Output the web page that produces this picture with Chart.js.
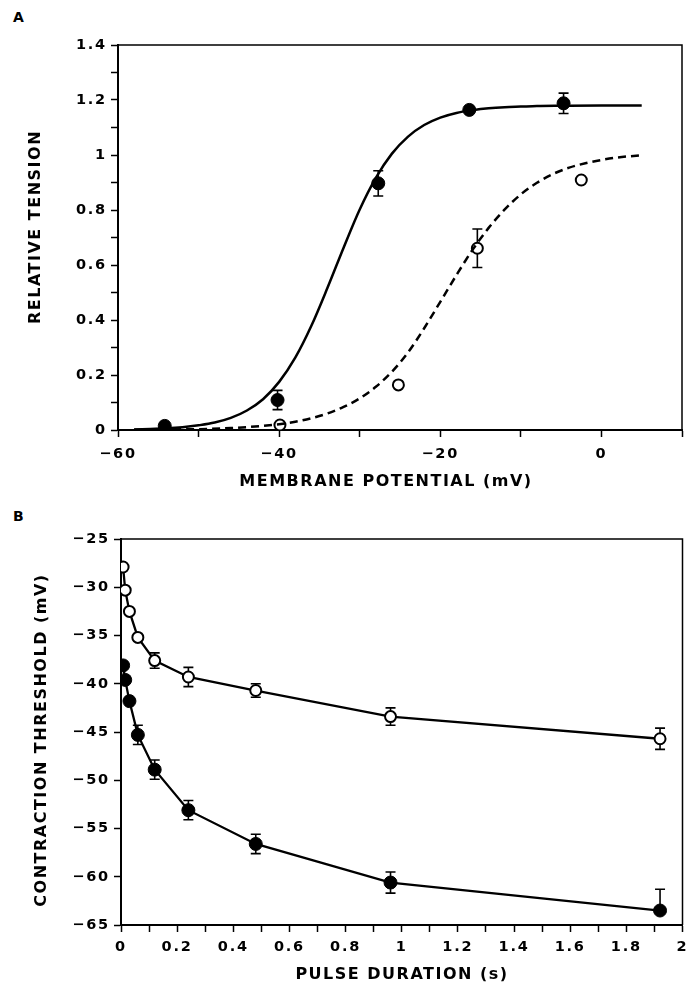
<!DOCTYPE html>
<html>
<head>
<meta charset="utf-8">
<script src="https://cdn.jsdelivr.net/npm/chart.js@4/dist/chart.umd.min.js"></script>
<style>
	body { margin:0; background:#fff; }
	.wrap { position:relative; width:690px; height:985px; }
	canvas { position:absolute; left:0; }
	.panel { position:absolute; left:13px; font:bold 14px "DejaVu Sans"; line-height:1; color:#000; }
</style>
</head>
<body>
<div class="wrap">
	<div class="panel" style="top:10px;">A</div>
	<canvas id="chartA" width="690" height="492" style="top:0;"></canvas>
	<div class="panel" style="top:509px;">B</div>
	<canvas id="chartB" width="690" height="493" style="top:492px;"></canvas>
</div>
<script>
// panel A : tension vs membrane potential
var potSolid = [-58, -56, -54, -52, -50, -48, -46, -44, -42, -40, -38, -36, -34, -32, -30, -28, -26, -24, -22, -20, -18, -16, -14, -12, -10, -8, -5, 0, 5];
var tensionSolid = [0.002, 0.004, 0.006, 0.01, 0.017, 0.027, 0.044, 0.071, 0.112, 0.175, 0.263, 0.379, 0.517, 0.663, 0.802, 0.917, 1.005, 1.067, 1.109, 1.136, 1.153, 1.163, 1.17, 1.174, 1.176, 1.178, 1.179, 1.18, 1.18];
var potDashed = [-58, -54, -50, -46, -42, -40, -38, -36, -34, -32, -30, -28, -26, -24, -22, -20, -18, -16, -14, -12, -10, -8, -6, -4, -2, 0, 2, 5];
var tensionDashed = [0.001, 0.002, 0.003, 0.007, 0.015, 0.021, 0.03, 0.043, 0.06, 0.084, 0.115, 0.157, 0.212, 0.282, 0.37, 0.466, 0.563, 0.655, 0.735, 0.802, 0.857, 0.899, 0.931, 0.954, 0.97, 0.982, 0.991, 0.999];
var potFilled = [-54.2, -40.2, -27.7, -16.4, -4.7];
var tensionFilled = [0.015, 0.109, 0.897, 1.164, 1.188];
var errFilled = [0, 0.035, 0.046, 0, 0.037];
var potOpen = [-39.9, -25.2, -15.4, -2.5];
var tensionOpen = [0.018, 0.164, 0.661, 0.909];
var errOpen = [0, 0, 0.07, 0];

// panel B : threshold vs pulse duration
var duration = [0.0075, 0.015, 0.03, 0.06, 0.12, 0.24, 0.48, 0.96, 1.92];
var thresholdOpen = [-27.9, -30.3, -32.5, -35.2, -37.6, -39.3, -40.7, -43.4, -45.7];
var errOpenB = [0, 0, 0, 0, 0.8, 1.0, 0.7, 0.9, 1.1];
var thresholdFilled = [-38.1, -39.6, -41.8, -45.3, -48.9, -53.1, -56.6, -60.6, -63.5];
var errFilledUp = [0, 0, 0, 1.0, 1.0, 1.0, 1.0, 1.1, 2.2];
var errFilledDown = [0, 0, 0, 1.0, 1.0, 1.0, 1.0, 1.1, 0];

var FONT = "DejaVu Sans";

function pts(xs, ys) {
	var out = [];
	for(var i=0; i<xs.length; i++) out.push({x: xs[i], y: ys[i]});
	return out;
}
function minus(s) {
	return String(s).replace("-", "\u2212");
}

// error bars, frame, axis titles
var figPlugin = {
	id: "fig",
	beforeDraw: function(chart) {
		chart.ctx.letterSpacing = "1.8px";
	},
	beforeDatasetsDraw: function(chart) {
		var ctx = chart.ctx;
		var xs = chart.scales.x, ys = chart.scales.y;
		ctx.save();
		ctx.strokeStyle = "#000";
		ctx.lineWidth = 1.6;
		chart.data.datasets.forEach(function(ds) {
			if(!ds.errUp) return;
			ds.data.forEach(function(p, i) {
				var up = ds.errUp[i], dn = ds.errDown[i];
				if(!up && !dn) return;
				var px = xs.getPixelForValue(p.x);
				var top = ys.getPixelForValue(p.y + up);
				var bot = ys.getPixelForValue(p.y - dn);
				ctx.beginPath();
				ctx.moveTo(px, top); ctx.lineTo(px, bot);
				if(up) { ctx.moveTo(px - 5, top); ctx.lineTo(px + 5, top); }
				if(dn) { ctx.moveTo(px - 5, bot); ctx.lineTo(px + 5, bot); }
				ctx.stroke();
			});
		});
		ctx.restore();
	},
	afterDraw: function(chart) {
		var ctx = chart.ctx;
		var a = chart.chartArea;
		var t = chart.options.plugins.fig;
		ctx.save();
		ctx.strokeStyle = "#000";
		ctx.lineWidth = 1.5;
		ctx.beginPath();
		ctx.moveTo(a.left, a.top); ctx.lineTo(a.right, a.top); ctx.lineTo(a.right, a.bottom);
		ctx.stroke();
		ctx.fillStyle = "#000";
		ctx.font = "bold 16px '" + FONT + "'";
		ctx.letterSpacing = "1.5px";
		ctx.textAlign = "center";
		ctx.textBaseline = "middle";
		ctx.fillText(t.xTitle, t.xPos[0], t.xPos[1]);
		ctx.translate(t.yPos[0], t.yPos[1]);
		ctx.rotate(-Math.PI / 2);
		ctx.fillText(t.yTitle, 0, 0);
		ctx.restore();
	}
};

function axis(opt) {
	return {
		type: "linear",
		min: opt.min,
		max: opt.max,
		afterFit: function(s) {
			if(opt.width) s.width = opt.width;
			if(opt.height) s.height = opt.height;
			s.paddingLeft = 0; s.paddingRight = 0;
			s.paddingTop = 0; s.paddingBottom = 0;
		},
		border: {color: "#000", width: 2},
		grid: {drawOnChartArea: false, color: "#000", tickLength: 7, tickWidth: 1.5},
		ticks: {
			stepSize: opt.step,
			autoSkip: false,
			maxRotation: 0,
			padding: opt.pad,
			color: "#000",
			font: {family: FONT, size: 14.5, weight: "bold"},
			callback: opt.label
		}
	};
}

var ctxA = document.getElementById("chartA");
var chartA = new Chart(ctxA, {
	type: "scatter",
	data: {
		datasets: [{
			data: pts(potSolid, tensionSolid),
			showLine: true, pointRadius: 0, borderColor: "#000", borderWidth: 2.5,
			cubicInterpolationMode: "monotone"
		}, {
			data: pts(potDashed, tensionDashed),
			showLine: true, pointRadius: 0, borderColor: "#000", borderWidth: 2.5,
			borderDash: [8, 5], cubicInterpolationMode: "monotone"
		}, {
			data: pts(potFilled, tensionFilled),
			errUp: errFilled, errDown: errFilled,
			pointRadius: 6.5, pointBackgroundColor: "#000", pointBorderColor: "#000", pointBorderWidth: 1
		}, {
			data: pts(potOpen, tensionOpen),
			errUp: errOpen, errDown: errOpen,
			pointRadius: 5.5, pointBackgroundColor: "#fff", pointBorderColor: "#000", pointBorderWidth: 2
		}]
	},
	options: {
		responsive: false,
		animation: false,
		layout: {padding: {top: 45, right: 8, left: 0, bottom: 0}},
		plugins: {
			legend: {display: false},
			tooltip: {enabled: false},
			fig: {xTitle: "MEMBRANE POTENTIAL (mV)", xPos: [386, 482], yTitle: "RELATIVE TENSION", yPos: [36, 227]}
		},
		scales: {
			x: axis({min: -60, max: 10, step: 10, height: 62, pad: 9, label: function(v) {
				v = Math.round(v);
				return (v <= 0 && v % 20 === 0) ? minus(v) : "";
			}}),
			y: axis({min: 0, max: 1.4, step: 0.1, width: 118, pad: 4, label: function(v) {
				var k = Math.round(v * 10);
				return k % 2 === 0 ? String(k / 10) : "";
			}})
		}
	},
	plugins: [figPlugin]
});

var ctxB = document.getElementById("chartB");
var chartB = new Chart(ctxB, {
	type: "scatter",
	data: {
		datasets: [{
			data: pts(duration, thresholdOpen),
			errUp: errOpenB, errDown: errOpenB,
			showLine: true, borderColor: "#000", borderWidth: 2.3,
			pointRadius: 5.5, pointBackgroundColor: "#fff", pointBorderColor: "#000", pointBorderWidth: 2
		}, {
			data: pts(duration, thresholdFilled),
			errUp: errFilledUp, errDown: errFilledDown,
			showLine: true, borderColor: "#000", borderWidth: 2.3,
			pointRadius: 6.5, pointBackgroundColor: "#000", pointBorderColor: "#000", pointBorderWidth: 1
		}]
	},
	options: {
		responsive: false,
		animation: false,
		layout: {padding: {top: 47, right: 4, left: 0, bottom: 0}},
		plugins: {
			legend: {display: false},
			tooltip: {enabled: false},
			fig: {xTitle: "PULSE DURATION (s)", xPos: [402, 483], yTitle: "CONTRACTION THRESHOLD (mV)", yPos: [42, 248]}
		},
		scales: {
			x: axis({min: 0, max: 2, step: 0.1, height: 60, pad: 7, label: function(v) {
				var k = Math.round(v * 10);
				return k % 2 === 0 ? String(k / 10) : "";
			}}),
			y: axis({min: -65, max: -25, step: 5, width: 121, pad: 4, label: function(v) {
				return minus(Math.round(v));
			}})
		}
	},
	plugins: [figPlugin]
});
</script>
</body>
</html>
